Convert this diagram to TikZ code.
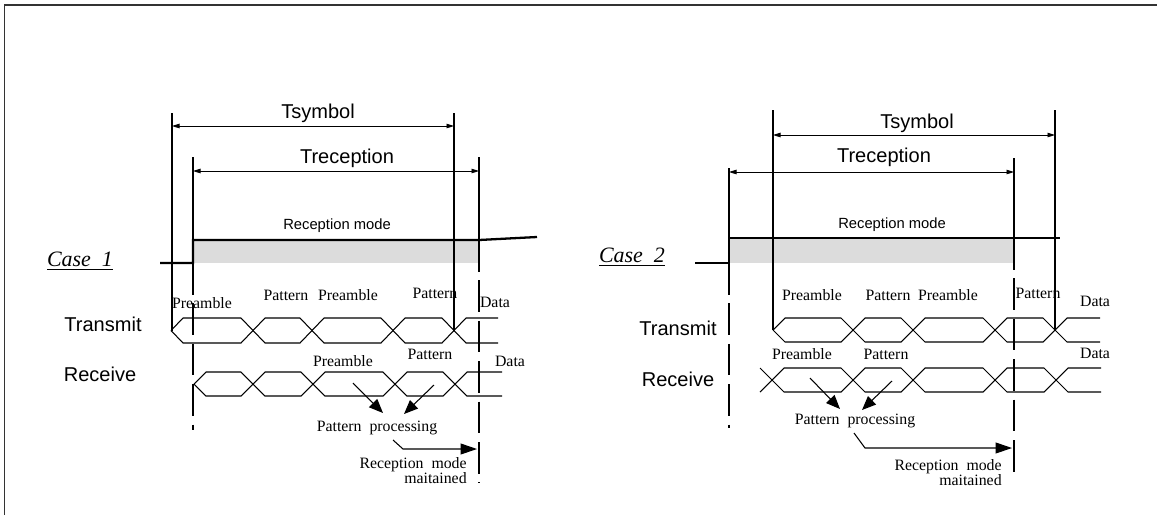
\documentclass[tikz,border=0pt]{standalone}
\usepackage{fontspec}
\setmainfont{Liberation Serif}
\newfontfamily\sansfont{Liberation Sans}
\usepackage{tikz}
\usetikzlibrary{arrows.meta}
\definecolor{bandgray}{HTML}{DCDCDC}
\definecolor{edge}{HTML}{333333}
\tikzset{
  sig/.style={draw, line width=0.6pt},
  lvl/.style={draw, line width=1.3pt},
  tick/.style={draw, line width=0.6pt},
  dsh/.style={draw, line width=0.6pt, dash pattern=on 18pt off 5pt},
  dim/.style={{Triangle[length=1.5mm,width=0.9mm]}-{Triangle[length=1.5mm,width=0.9mm]}, line width=0.5pt},
  arr/.style={-{Triangle[length=2.8mm,width=2.3mm]}, line width=0.6pt},
  harr/.style={-{Triangle[length=3.3mm,width=2.2mm]}, line width=0.6pt},
  lbl/.style={inner sep=0pt, font=\fontsize{9}{9}\selectfont},
  slbl/.style={inner sep=0pt, font=\sansfont\fontsize{11.4}{11.4}\selectfont},
  mlbl/.style={inner sep=0pt, font=\sansfont\fontsize{8.4}{8.4}\selectfont},
  hdr/.style={inner sep=0pt, font=\itshape\fontsize{12.5}{12.5}\selectfont},
  note/.style={inner sep=0pt, align=right, anchor=east, font=\fontsize{9}{8.6}\selectfont}
}
\begin{document}
\begin{tikzpicture}[x=0.02cm, y=-0.02cm]
\useasboundingbox (0,0) rectangle (1157,515);
\draw[edge, line width=0.9pt] (4.5,515) -- (4.5,5) -- (1157,5);

% case 1
\fill[bandgray] (193,240) rectangle (478,263);
\draw[lvl] (160,263) -- (193,263) -- (193,240) -- (479,240) -- (537,237);
\draw[tick] (172,113) -- (172,331);
\draw[tick] (454,113) -- (454,331);
\draw[tick] (193,157) -- (193,240);
\draw[tick] (479,157) -- (479,240);
\draw[dsh] (193,263) -- (193,430);
\draw[dsh] (479,240) -- (479,483);
\draw[dim] (172,126) -- (454,126);
\draw[dim] (193,171) -- (479,171);
\node[slbl] (symA) at (318,113) {Tsymbol};
\node[slbl] (recA) at (347,158) {Treception};
\node[mlbl] (modeA) at (337,226) {Reception mode};
\node[hdr] (caseA) at (80,261) {\underline{Case\ \ 1}};
\node[slbl] (txA) at (103,324) {Transmit};
\node[slbl] (rxA) at (100,374) {Receive};
% transmit
\draw[sig] (171,330.5) -- (183,318) -- (241,318) -- (265,343) -- (300,343) -- (324,318) -- (381,318) -- (405,343) -- (442,343) -- (466,318) -- (498,318);
\draw[sig] (171,330.5) -- (183,343) -- (241,343) -- (265,318) -- (300,318) -- (324,343) -- (381,343) -- (405,318) -- (442,318) -- (466,343) -- (498,343);
\node[lbl] (txA1) at (202,303) {Preamble};
\node[lbl] (txA2) at (286,295) {Pattern};
\node[lbl] (txA3) at (348,295) {Preamble};
\node[lbl] (txA4) at (435,293) {Pattern};
\node[lbl] (txA5) at (495,302) {Data};
% receive
\draw[sig] (194,384) -- (206,372) -- (241,372) -- (265,396) -- (301,396) -- (325,372) -- (383,372) -- (407,396) -- (443,396) -- (467,372) -- (502,372);
\draw[sig] (194,384) -- (206,396) -- (241,396) -- (265,372) -- (301,372) -- (325,396) -- (383,396) -- (407,372) -- (443,372) -- (467,396) -- (502,396);
\node[lbl] (rxA1) at (343,361) {Preamble};
\node[lbl] (rxA2) at (430,354) {Pattern};
\node[lbl] (rxA3) at (510,361) {Data};
\node[lbl] (procA) at (377,428) {Pattern\ \ processing};
\node[note] (keepA) at (467,470.5) {Reception\ \ mode\\maitained};
\coordinate (pA1) at (353,383);
\coordinate (pA2) at (434,385);
\coordinate (kA) at (393,440);
\coordinate (kA1) at (403,449);
\coordinate (kA2) at (477,449);
\draw[arr] (pA1) -- (383,413);
\draw[arr] (pA2) -- (404,414);
\draw[harr] (kA) -- (kA1) -- (kA2);

% case 2
\fill[bandgray] (729,238) rectangle (1014,263);
\draw[lvl] (695,263) -- (729,263) -- (729,238) -- (1060,238);
\draw[tick] (773,110) -- (773,330);
\draw[tick] (1055,110) -- (1055,330);
\draw[tick] (729,168) -- (729,238);
\draw[tick] (1014,158) -- (1014,238);
\draw[dsh] (729,263) -- (729,428);
\draw[dsh] (1014,238) -- (1014,478);
\draw[dim] (773,135) -- (1055,135);
\draw[dim] (729,172) -- (1014,172);
\node[slbl] (symB) at (917,123) {Tsymbol};
\node[slbl] (recB) at (884,157) {Treception};
\node[mlbl] (modeB) at (892,225) {Reception mode};
\node[hdr] (caseB) at (632,257) {\underline{Case\ \ 2}};
\node[slbl] (txB) at (678,328) {Transmit};
\node[slbl] (rxB) at (678,379) {Receive};
% transmit
\draw[sig] (773,330) -- (785,318) -- (841,318) -- (865,342) -- (901,342) -- (925,318) -- (983,318) -- (1007,342) -- (1043,342) -- (1067,318) -- (1100,318);
\draw[sig] (773,330) -- (785,342) -- (841,342) -- (865,318) -- (901,318) -- (925,342) -- (983,342) -- (1007,318) -- (1043,318) -- (1067,342) -- (1100,342);
\node[lbl] (txB1) at (812,295) {Preamble};
\node[lbl] (txB2) at (888,295) {Pattern};
\node[lbl] (txB3) at (948,295) {Preamble};
\node[lbl] (txB4) at (1038,293) {Pattern};
\node[lbl] (txB5) at (1095,301) {Data};
% receive
\draw[sig] (760,368) -- (784,392) -- (841,392) -- (865,368) -- (901,368) -- (925,392) -- (983,392) -- (1007,368) -- (1044,368) -- (1068,392) -- (1101,392);
\draw[sig] (760,392) -- (784,368) -- (841,368) -- (865,392) -- (901,392) -- (925,368) -- (983,368) -- (1007,392) -- (1044,392) -- (1068,368) -- (1101,368);
\node[lbl] (rxB1) at (802,354) {Preamble};
\node[lbl] (rxB2) at (886,354) {Pattern};
\node[lbl] (rxB3) at (1095,353) {Data};
\node[lbl] (procB) at (855,421) {Pattern\ \ processing};
\node[note] (keepB) at (1002,473) {Reception\ \ mode\\maitained};
\coordinate (pB1) at (810,378);
\coordinate (pB2) at (892,381);
\coordinate (kB) at (854,433);
\coordinate (kB1) at (865,448);
\coordinate (kB2) at (1012,448);
\draw[arr] (pB1) -- (840,409);
\draw[arr] (pB2) -- (862,410);
\draw[harr] (kB) -- (kB1) -- (kB2);
\end{tikzpicture}
\end{document}
